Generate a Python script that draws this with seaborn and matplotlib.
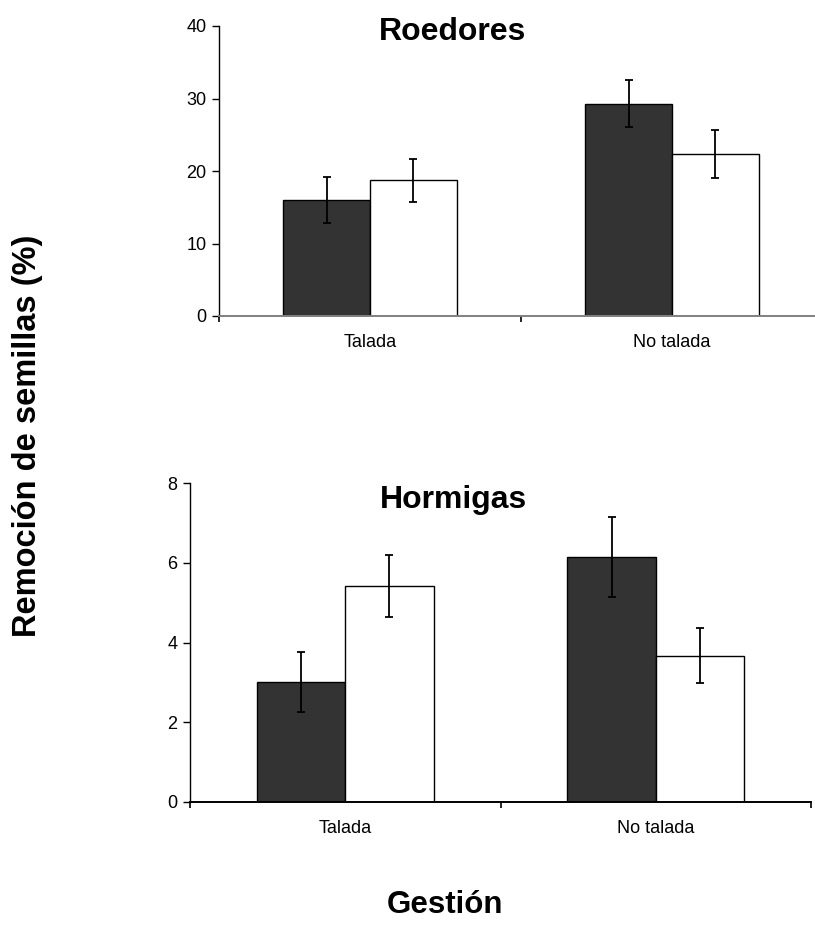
import matplotlib
matplotlib.use("Agg")
import matplotlib.pyplot as plt
from matplotlib.ticker import FixedLocator
import seaborn as sns
import pandas as pd

# Management categories and the two treatments
gestion = ["Talada", "No talada"]
tratamientos = ["oscuro", "claro"]

# Seed removal (%) by rodents: means and error bars
roedores_oscuro = [16.0, 29.3]
roedores_claro = [18.7, 22.4]
roedores_err_oscuro = [3.2, 3.2]
roedores_err_claro = [3.0, 3.3]

# Seed removal (%) by ants: means and error bars
hormigas_oscuro = [3.0, 6.15]
hormigas_claro = [5.42, 3.67]
hormigas_err_oscuro = [0.75, 1.0]
hormigas_err_claro = [0.77, 0.69]

roedores_ticks = [0, 10, 20, 30, 40]
hormigas_ticks = [0, 2, 4, 6, 8]

sns.set_theme(style="white")
plt.rcParams["font.family"] = ["Liberation Sans", "DejaVu Sans"]
plt.rcParams["text.color"] = "black"
plt.rcParams["axes.labelcolor"] = "black"
plt.rcParams["xtick.color"] = "black"
plt.rcParams["ytick.color"] = "black"

fig = plt.figure(figsize=(8.15, 9.34), dpi=100)
W, H = 815, 934


def px_axes(left, right, bottom, top):
    return fig.add_axes([left / W, 1 - bottom / H, (right - left) / W, (bottom - top) / H])


def panel(ax, oscuro, claro, err_o, err_c, yticks, width, base_color):
    df = pd.DataFrame({
        "gestion": gestion * 2,
        "tratamiento": [tratamientos[0]] * 2 + [tratamientos[1]] * 2,
        "valor": oscuro + claro,
    })
    sns.barplot(data=df, x="gestion", y="valor", hue="tratamiento",
                order=gestion, hue_order=tratamientos,
                palette={"oscuro": "#333333", "claro": "#ffffff"},
                width=width, errorbar=None, edgecolor="black",
                linewidth=1.0, saturation=1, legend=False, ax=ax)
    for cont, errs in zip(ax.containers, [err_o, err_c]):
        for bar, e in zip(cont, errs):
            xc = bar.get_x() + bar.get_width() / 2
            ax.errorbar(xc, bar.get_height(), yerr=e, fmt="none",
                        ecolor="black", elinewidth=1.3, capsize=3,
                        capthick=1.3, zorder=5)
    ax.set_xlim(-0.5, 1.5)
    ax.set_ylim(yticks[0], yticks[-1])
    ax.set_yticks(yticks)
    ax.set_xticks([0, 1])
    ax.set_xticklabels(gestion)
    ax.xaxis.set_minor_locator(FixedLocator([-0.5, 0.5, 1.5]))
    ax.tick_params(axis="x", which="major", length=0, pad=13, labelsize=13,
                   colors="black")
    ax.tick_params(axis="x", which="minor", length=4, width=1.2,
                   color="black", bottom=True)
    ax.tick_params(axis="y", length=5, width=1.0, pad=4, labelsize=13,
                   left=True, colors="black")
    ax.set_xlabel("")
    ax.set_ylabel("")
    for s in ["top", "right"]:
        ax.spines[s].set_visible(False)
    ax.spines["left"].set_color("black")
    ax.spines["left"].set_linewidth(1.0)
    ax.spines["bottom"].set_color(base_color)
    ax.spines["bottom"].set_linewidth(1.4)
    ax.set_facecolor("none")


ax1 = px_axes(219, 823, 316, 26)
panel(ax1, roedores_oscuro, roedores_claro, roedores_err_oscuro,
      roedores_err_claro, roedores_ticks, 0.575, "#808080")

ax2 = px_axes(190, 811, 802, 483)
panel(ax2, hormigas_oscuro, hormigas_claro, hormigas_err_oscuro,
      hormigas_err_claro, hormigas_ticks, 0.57, "black")

fig.text(453 / W, 1 - 32 / H, "Roedores", ha="center", va="center",
         fontsize=23, fontweight="bold", color="black")
fig.text(453 / W, 1 - 500 / H, "Hormigas", ha="center", va="center",
         fontsize=23, fontweight="bold", color="black")
fig.text(28 / W, 1 - 436 / H, "Remoción de semillas (%)", ha="center",
         va="center", rotation=90, fontsize=23.5, fontweight="bold",
         color="black")
fig.text(445 / W, 1 - 905 / H, "Gestión", ha="center", va="center",
         fontsize=22.5, fontweight="bold", color="black")

fig.savefig("out.png", dpi=100, facecolor="white")
